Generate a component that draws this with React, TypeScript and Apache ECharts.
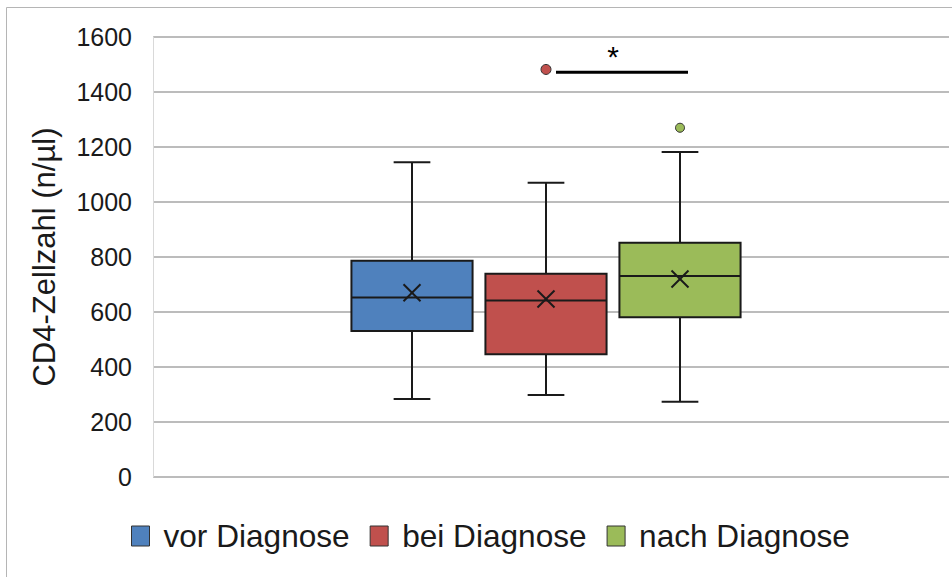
import React, { useEffect, useRef } from 'react';
import * as echarts from 'echarts';

// ---- data ----
const groups = ['vor Diagnose', 'bei Diagnose', 'nach Diagnose'];
const colors = ['#4F81BD', '#C0504D', '#9BBB59'];
const mins = [284, 298, 274];
const q1s = [531, 446, 581];
const medians = [653, 642, 731];
const q3s = [786, 739, 852];
const maxs = [1145, 1070, 1182];
const means = [670, 647, 720];
const outliers: number[][] = [[], [1482], [1270]];
const outlierSizes = [10, 10, 9];
const yMin = 0;
const yMax = 1600;
const yInterval = 200;
const yTitle = 'CD4-Zellzahl (n/µl)';
const sigFrom = 1;
const sigTo = 2;
const sigValue = 1472;
const sigLabel = '*';

const FONT = '"Liberation Sans", Arial, sans-serif';
const INK = '#1a1a1a';

const renderBox = (params: any, api: any) => {
  const x = api.value(0);
  const bw = api.size([1, 0])[0];
  const half = bw * 0.452;
  const capHalf = bw * 0.137;
  const pMin = api.coord([x, api.value(1)]);
  const pQ1 = api.coord([x, api.value(2)]);
  const pMed = api.coord([x, api.value(3)]);
  const pQ3 = api.coord([x, api.value(4)]);
  const pMax = api.coord([x, api.value(5)]);
  const pMean = api.coord([x, api.value(6)]);
  const cx = pMin[0];
  const line = { stroke: INK, lineWidth: 2 };
  const m = 8.5;
  return {
    type: 'group',
    children: [
      { type: 'line', shape: { x1: cx, y1: pMax[1], x2: cx, y2: pQ3[1] }, style: line },
      { type: 'line', shape: { x1: cx, y1: pQ1[1], x2: cx, y2: pMin[1] }, style: line },
      { type: 'line', shape: { x1: cx - capHalf, y1: pMax[1], x2: cx + capHalf, y2: pMax[1] }, style: line },
      { type: 'line', shape: { x1: cx - capHalf, y1: pMin[1], x2: cx + capHalf, y2: pMin[1] }, style: line },
      {
        type: 'rect',
        shape: { x: cx - half, y: pQ3[1], width: 2 * half, height: pQ1[1] - pQ3[1] },
        style: { fill: api.visual('color'), stroke: INK, lineWidth: 2 },
      },
      { type: 'line', shape: { x1: cx - half, y1: pMed[1], x2: cx + half, y2: pMed[1] }, style: line },
      { type: 'line', shape: { x1: cx - m, y1: pMean[1] - m, x2: cx + m, y2: pMean[1] + m }, style: line },
      { type: 'line', shape: { x1: cx - m, y1: pMean[1] + m, x2: cx + m, y2: pMean[1] - m }, style: line },
    ],
  };
};

const renderSig = (params: any, api: any) => {
  const p1 = api.coord([api.value(0), api.value(2)]);
  const p2 = api.coord([api.value(1), api.value(2)]);
  return {
    type: 'group',
    children: [
      {
        type: 'line',
        shape: { x1: p1[0] + 10, y1: p1[1], x2: p2[0] + 8, y2: p2[1] },
        style: { stroke: '#000', lineWidth: 3 },
      },
      {
        type: 'text',
        x: (p1[0] + p2[0]) / 2,
        y: p1[1] - 16,
        style: {
          text: sigLabel,
          fontSize: 30,
          fontFamily: FONT,
          fill: '#000',
          align: 'center',
          verticalAlign: 'middle',
        },
      },
    ],
  };
};

export default function App() {
  const ref = useRef<HTMLDivElement>(null);
  useEffect(() => {
    if (!ref.current) return;
    const chart = echarts.init(ref.current, undefined, { renderer: 'svg' });
    const boxSeries = groups.map((g, i) => ({
      type: 'custom',
      name: g,
      xAxisIndex: 1,
      yAxisIndex: 1,
      renderItem: renderBox,
      itemStyle: { color: colors[i], borderColor: '#333', borderWidth: 1 },
      encode: { x: 0, y: [1, 2, 3, 4, 5, 6] },
      data: [[i, mins[i], q1s[i], medians[i], q3s[i], maxs[i], means[i]]],
      z: 3,
    }));
    const outlierSeries = groups.map((g, i) => ({
      type: 'scatter',
      name: g + ' Ausreißer',
      xAxisIndex: 1,
      yAxisIndex: 1,
      symbol: 'circle',
      symbolSize: outlierSizes[i],
      itemStyle: { color: colors[i], borderColor: '#333', borderWidth: 1, opacity: 1 },
      data: outliers[i].map((v) => [i, v]),
      z: 4,
    }));
    chart.setOption({
      animation: false,
      backgroundColor: '#fff',
      textStyle: { fontFamily: FONT },
      grid: [
        { left: 153, right: 3, top: 37, bottom: 100 },
        { left: 345, width: 402, top: 37, bottom: 100 },
      ],
      xAxis: [
        { type: 'category', gridIndex: 0, data: [''], show: false },
        { type: 'category', gridIndex: 1, data: groups, show: false },
      ],
      yAxis: [
        {
          type: 'value',
          gridIndex: 0,
          min: yMin,
          max: yMax,
          interval: yInterval,
          name: yTitle,
          nameLocation: 'middle',
          nameGap: 93,
          nameTextStyle: { fontSize: 31, color: INK, fontFamily: FONT },
          axisLine: { show: true, lineStyle: { color: '#d9d9d9', width: 1 } },
          axisTick: { show: false },
          axisLabel: {
            fontSize: 25,
            color: INK,
            margin: 21,
            fontFamily: FONT,
            formatter: (v: number) => String(v),
          },
          splitLine: { show: true, lineStyle: { color: '#a6a6a6', width: 1.5 } },
        },
        { type: 'value', gridIndex: 1, min: yMin, max: yMax, interval: yInterval, show: false },
      ],
      legend: {
        data: groups,
        left: 126,
        top: 515,
        icon: 'rect',
        itemWidth: 18,
        itemHeight: 20,
        itemGap: 20,
        itemStyle: { borderColor: '#333', borderWidth: 1 },
        textStyle: { fontSize: 31.6, color: INK, fontFamily: FONT, padding: [0, 0, 0, 9] },
      },
      graphic: [
        {
          type: 'rect',
          silent: true,
          z: -10,
          shape: { x: 6.5, y: 7.5, width: 1000, height: 1000 },
          style: { fill: 'none', stroke: '#b5b5b5', lineWidth: 1 },
        },
      ],
      series: [
        ...boxSeries,
        ...outlierSeries,
        {
          type: 'custom',
          name: 'Signifikanz',
          xAxisIndex: 1,
          yAxisIndex: 1,
          renderItem: renderSig,
          encode: { x: [0, 1], y: 2 },
          data: [[sigFrom, sigTo, sigValue]],
          z: 5,
        },
      ],
    });
    return () => chart.dispose();
  }, []);
  return (
    <div
      ref={ref}
      style={{ position: 'fixed', left: 0, top: 0, width: 952, height: 577, background: '#fff' }}
    />
  );
}
